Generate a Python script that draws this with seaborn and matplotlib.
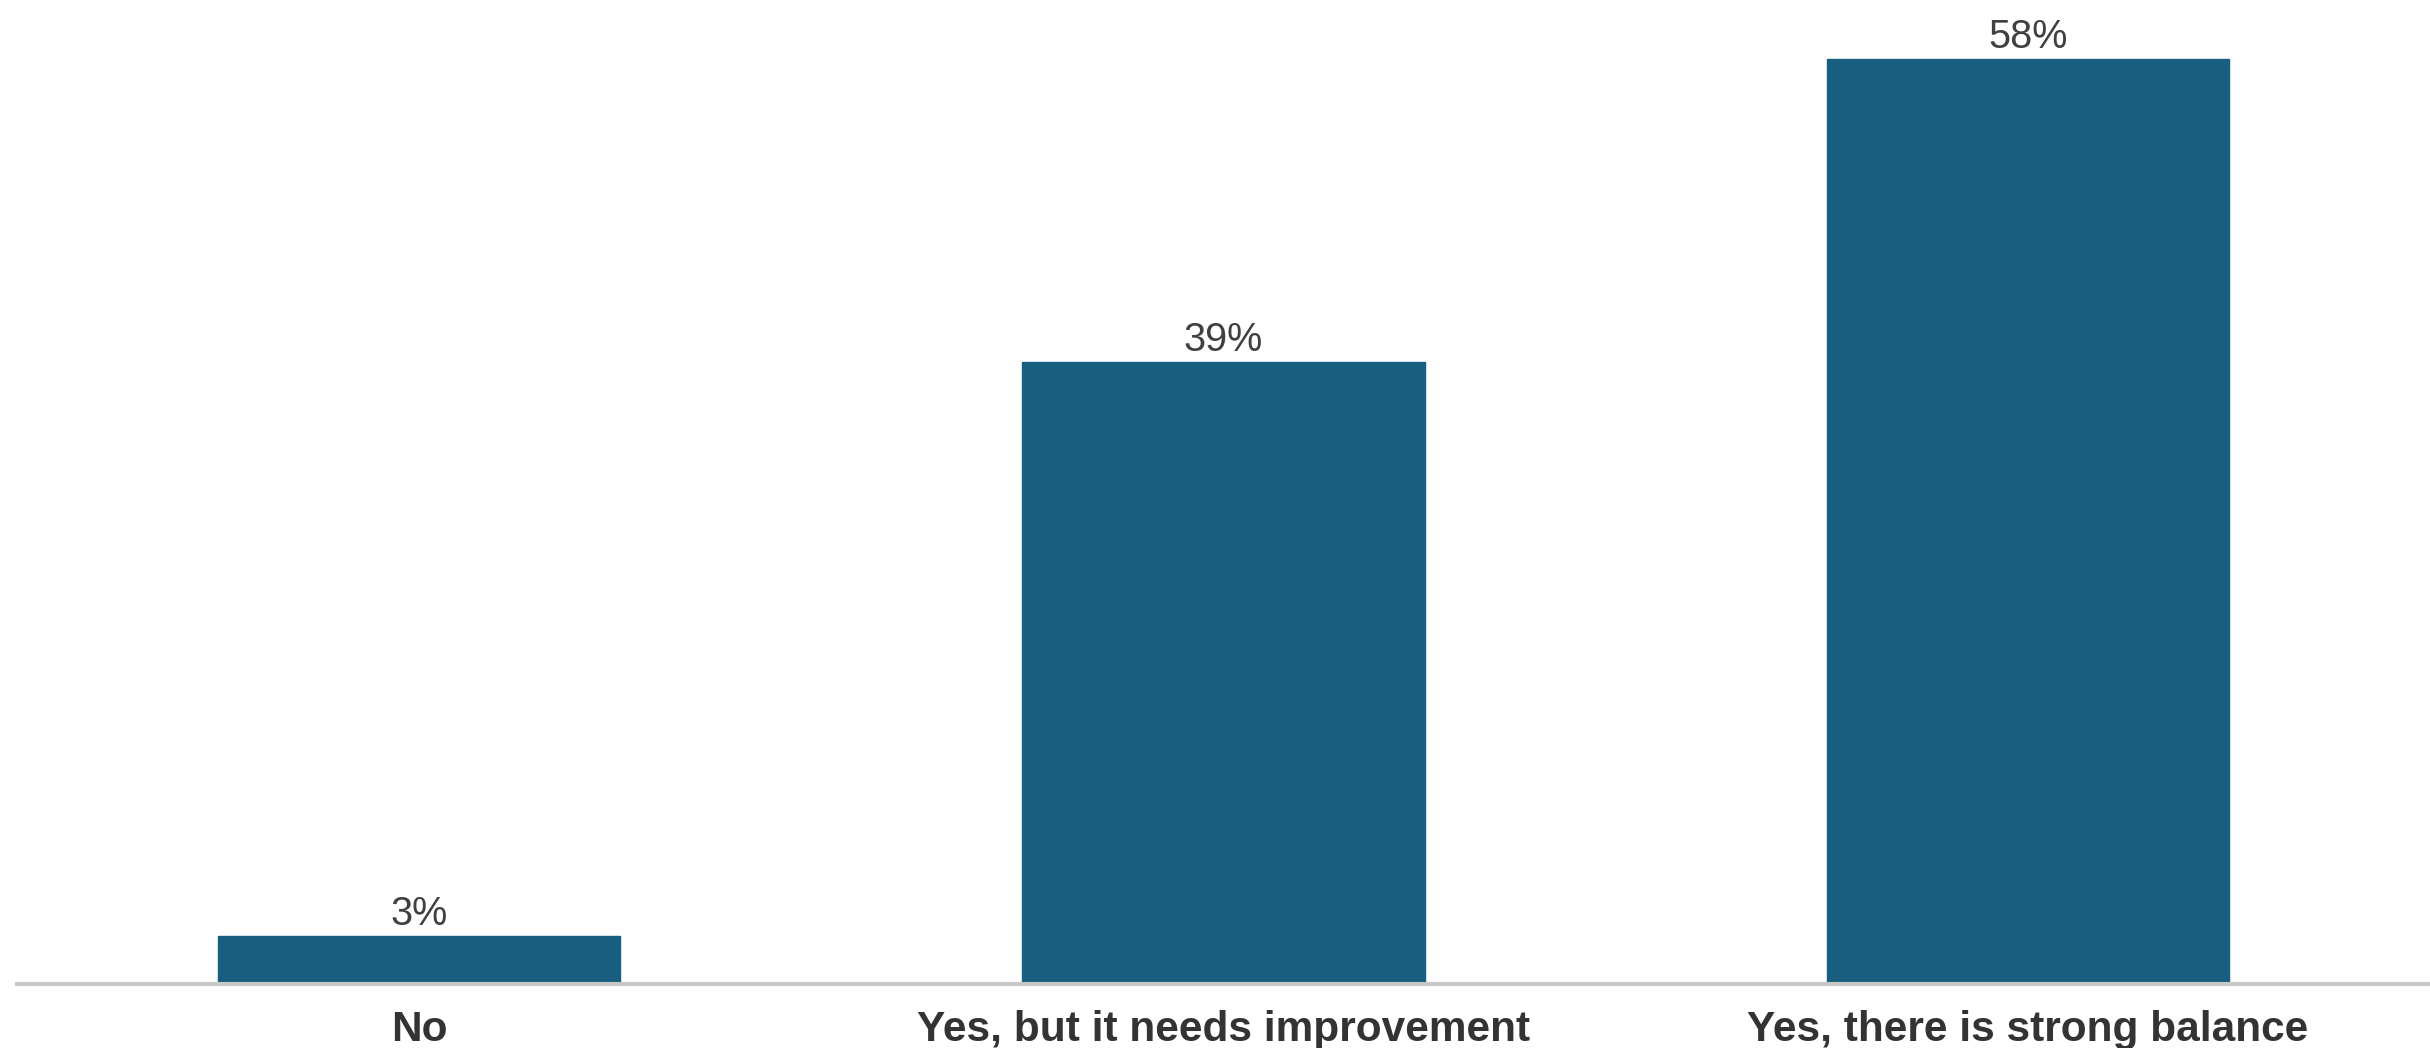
import pandas as pd
import matplotlib.pyplot as plt
import seaborn as sns

# Data
categories = ["No", "Yes, but it needs improvement", "Yes, there is strong balance"]
shares = [3, 39, 58]

df = pd.DataFrame({"answer": categories, "share": shares})

sns.set_theme(style="white")
plt.rcParams["font.family"] = ["Liberation Sans", "DejaVu Sans"]

fig = plt.figure(figsize=(24.3, 10.48), dpi=100)
ax = fig.add_axes([0.007, 0.061, 0.993, 0.939])

sns.barplot(data=df, x="answer", y="share", color="#185E80", saturation=1,
            width=0.5, ax=ax)

for p in ax.patches:
    p.set_edgecolor("#185E80")

ax.bar_label(ax.containers[0], labels=[f"{v}%" for v in shares],
             padding=2, fontsize=28.5, color="#404040")

ax.set_xlim(-0.5, 2.5)
ax.set_ylim(0, 61.7)
ax.set_xlabel("")
ax.set_ylabel("")
ax.set_yticks([])
ax.tick_params(axis="x", length=0, pad=19, labelsize=30.5, labelcolor="#333333")
for lbl in ax.get_xticklabels():
    lbl.set_fontweight("bold")

for side in ["top", "right", "left"]:
    ax.spines[side].set_visible(False)
ax.spines["bottom"].set_color("#c8c8c8")
ax.spines["bottom"].set_linewidth(3)

plt.savefig("out.png", dpi=100)
